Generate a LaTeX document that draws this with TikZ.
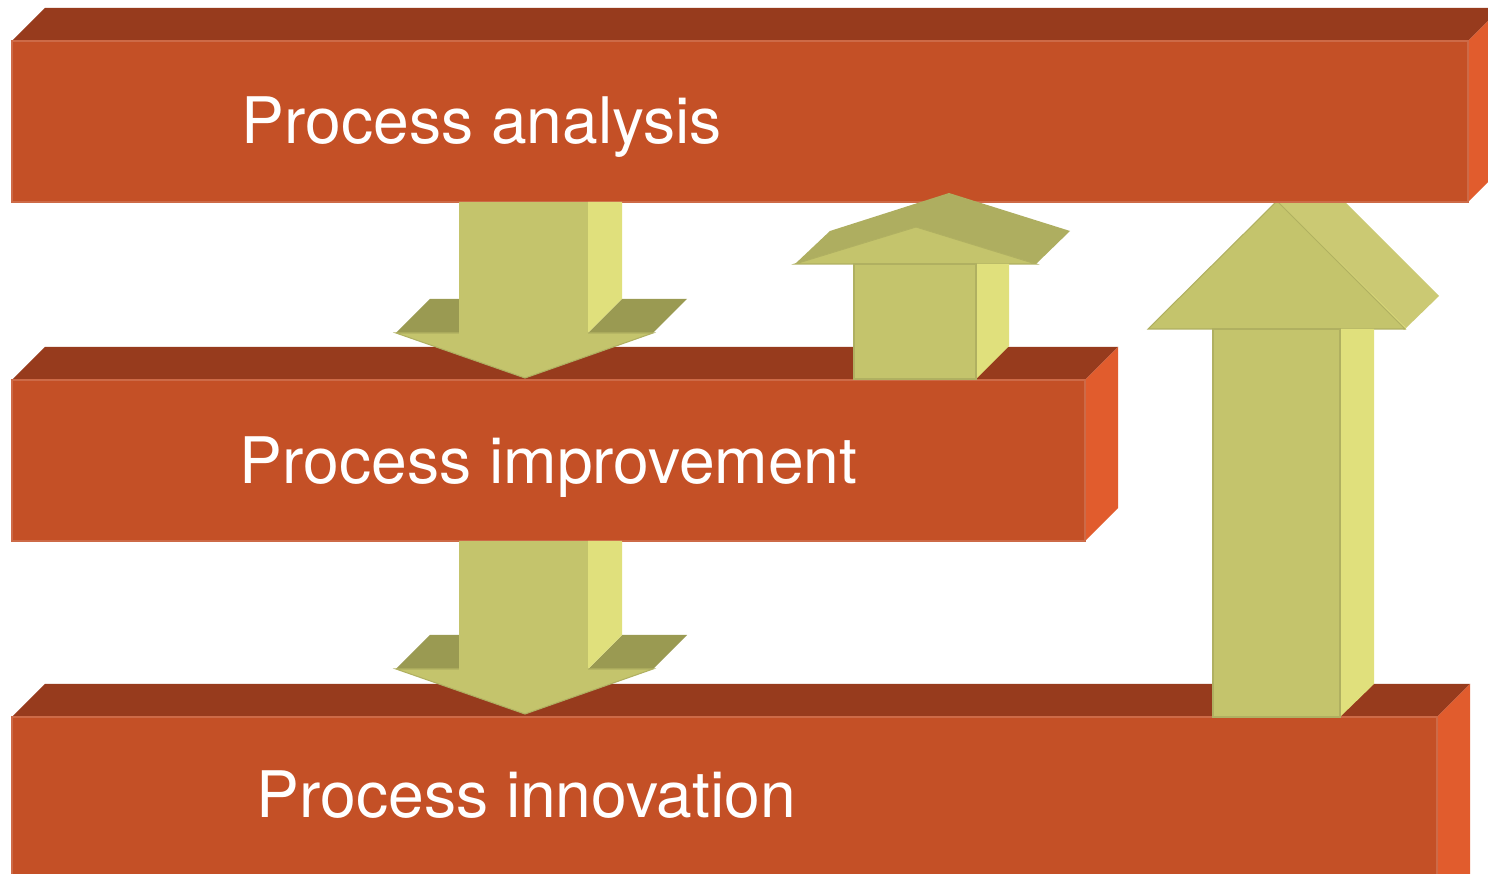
\documentclass[tikz,border=0pt]{standalone}
\usepackage{fontspec}
\setmainfont{TeX Gyre Heros}
\usepackage{xcolor}
\definecolor{barfront}{HTML}{C45026}
\definecolor{bartop}{HTML}{973B1D}
\definecolor{barside}{HTML}{E15C2D}
\definecolor{arrfront}{HTML}{C4C46C}
\definecolor{arrside}{HTML}{E0E07C}
\definecolor{arrtop}{HTML}{9A9A52}
\definecolor{arrtopup}{HTML}{AEAE60}
\definecolor{arrheadside}{HTML}{CBC973}
\usetikzlibrary{positioning}

\begin{document}
\begin{tikzpicture}[x=0.01cm, y=-0.01cm,
      front/.style={fill=barfront, draw=barfront!85!white, line width=0.4pt},
      top/.style={fill=bartop},
      side/.style={fill=barside},
      afront/.style={fill=arrfront, draw=arrfront!90!black, line width=0.3pt},
      aside/.style={fill=arrside},
      label/.style={anchor=base west, inner sep=0pt, text=white,
                    font=\fontsize{18.25}{22}\selectfont}]
    \clip (0,0) rectangle (1488,874);
    \fill[white] (0,0) rectangle (1488,874);
    % --- bottom bar: innovation ---
    \fill[top] (12,717) -- (45,684) -- (1470,684) -- (1437,717) -- cycle;
    \fill[side] (1437,717) -- (1470,684) -- (1470,900) -- (1437,900) -- cycle;
    \filldraw[front] (12,717) rectangle (1437,900);
    % --- middle bar: improvement ---
    \fill[top] (12,380) -- (45,347) -- (1118,347) -- (1085,380) -- cycle;
    \fill[side] (1085,380) -- (1118,347) -- (1118,508) -- (1085,541) -- cycle;
    \filldraw[front] (12,380) rectangle (1085,541);
    % --- tall arrow up, its head sits behind the top bar ---
    \fill[arrheadside] (1277,202) -- (1311,168) -- (1439,296) -- (1405,329) -- cycle;
    \draw[arrside, line width=0.8pt] (1277,202) -- (1405,329);
    \filldraw[afront] (1148,329) -- (1277,201) -- (1405,329) -- cycle;
    \fill[aside] (1340,329) -- (1374,329) -- (1374,684) -- (1340,717) -- cycle;
    \filldraw[afront] (1213,329) rectangle (1340,717);
    % --- top bar: analysis ---
    \fill[top] (12,41) -- (45,8) -- (1501,8) -- (1468,41) -- cycle;
    \fill[side] (1468,41) -- (1501,8) -- (1501,169) -- (1468,202) -- cycle;
    \filldraw[front] (12,41) rectangle (1468,202);
    % --- arrows down between the bars ---
    \foreach \ytop/\ywing in {202/333, 541/669} {
      \fill[arrtop] (396,\ywing) -- (430,\ywing-34) -- (459,\ywing-34) -- (459,\ywing) -- cycle;
      \fill[arrtop] (588,\ywing) -- (622,\ywing-34) -- (687,\ywing-34) -- (653,\ywing) -- cycle;
      \fill[aside] (588,\ytop) -- (622,\ytop) -- (622,\ywing-34) -- (588,\ywing) -- cycle;
      \fill[arrfront] (459,\ytop) rectangle (588,\ywing);
      \filldraw[afront] (396,\ywing) -- (653,\ywing) -- (525,\ywing+45) -- cycle;
      \fill[arrfront] (459,\ywing-2) rectangle (588,\ywing+1);
    }
    % --- short arrow up from improvement ---
    \fill[arrtopup] (795,264) -- (830,231) -- (949,193) -- (1070,231) -- (1036,264) -- (916,227) -- cycle;
    \filldraw[afront] (795,264) -- (916,227) -- (1036,264) -- cycle;
    \fill[aside] (976,264) -- (1009,264) -- (1009,346) -- (976,379) -- cycle;
    \filldraw[afront] (854,264) rectangle (976,379);
    % --- bar labels ---
    \node[label] (analysis) at (241,144) {Process analysis};
    \node[label] (improvement) at (239,484) {Process improvement};
    \node[label] (innovation) at (256,818) {Process innovation};
  \end{tikzpicture}
\end{document}
